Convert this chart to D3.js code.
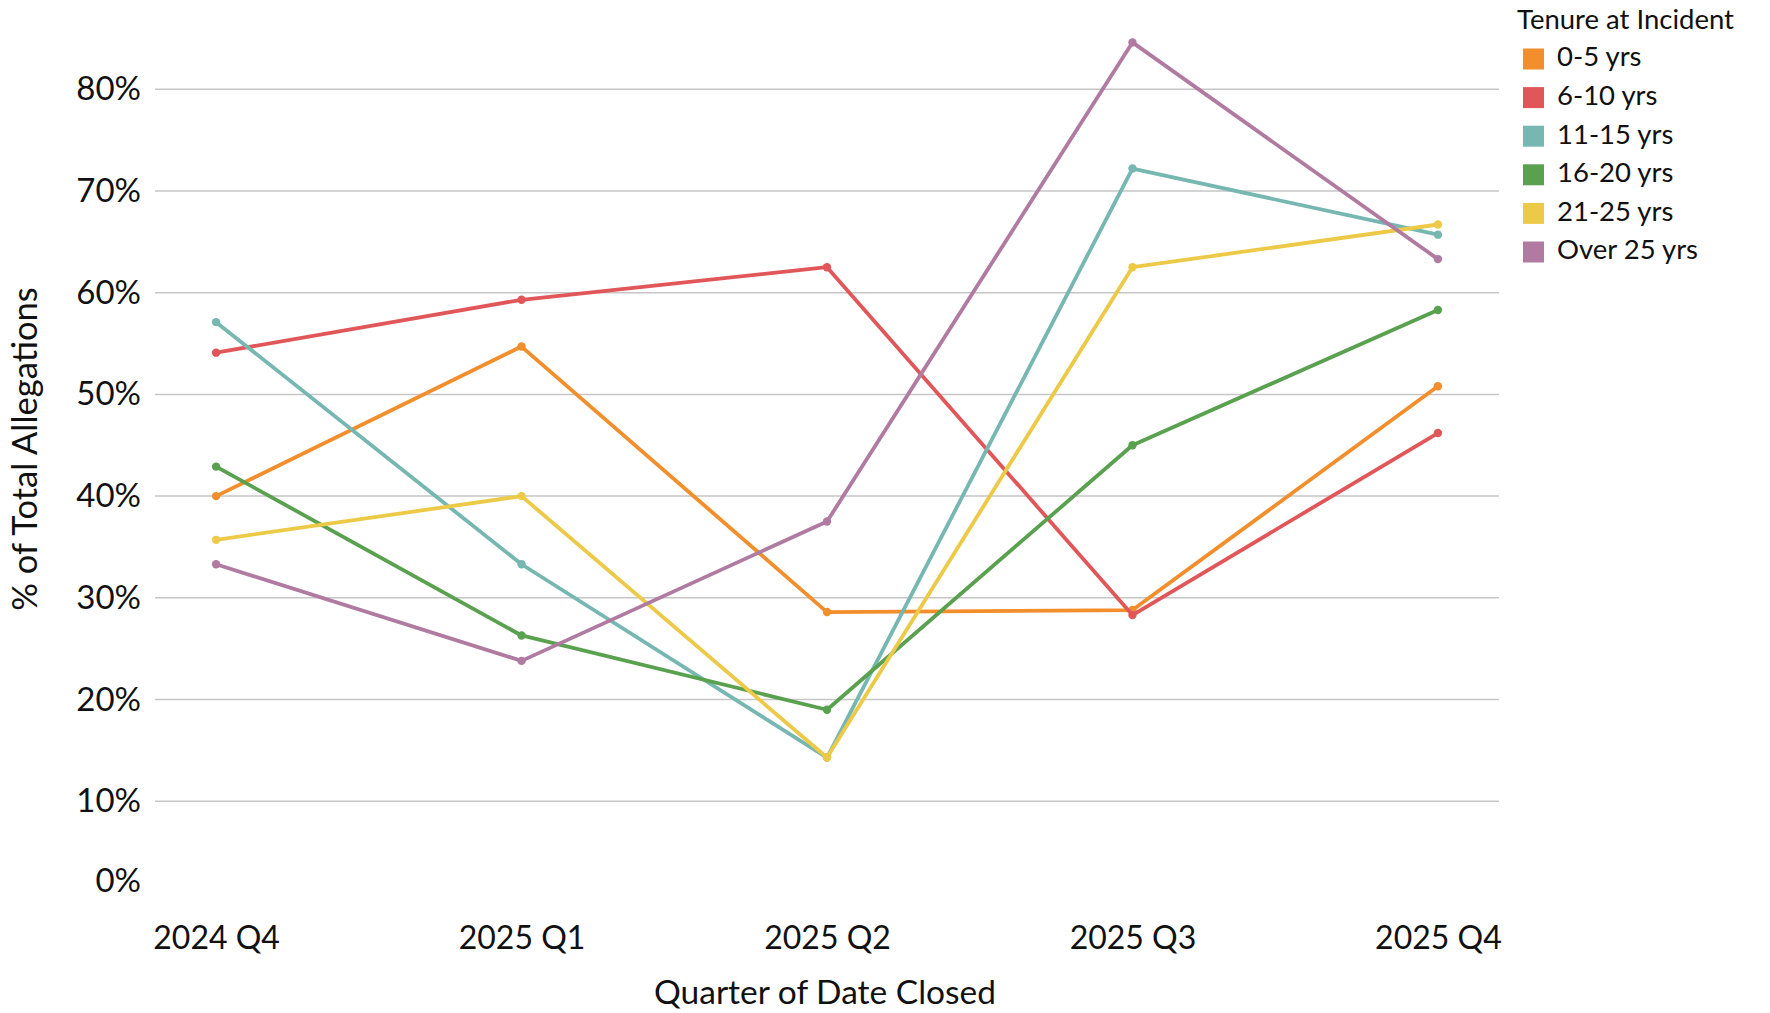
<!DOCTYPE html>
<html>
<head>
<meta charset="utf-8">
<script src="https://cdn.jsdelivr.net/npm/d3@7"></script>
<style>
  body { margin: 0; background: #fff; }
  svg { display: block; font-family: Lato, "Open Sans", sans-serif; }
  .tick text { fill: #111; }
</style>
</head>
<body>
<div class="content"></div>
<script>
// quarters on the x axis
var quarters = ["2024 Q4", "2025 Q1", "2025 Q2", "2025 Q3", "2025 Q4"];
var tenures = ["0-5 yrs", "6-10 yrs", "11-15 yrs", "16-20 yrs", "21-25 yrs", "Over 25 yrs"];
var colors = ["#f28e2b", "#e15759", "#76b7b2", "#59a14f", "#edc948", "#b07aa1"];

// % of total allegations, one array per tenure group
var yrs0to5   = [0.400, 0.547, 0.286, 0.288, 0.508];
var yrs6to10  = [0.541, 0.593, 0.625, 0.283, 0.462];
var yrs11to15 = [0.571, 0.333, 0.143, 0.722, 0.657];
var yrs16to20 = [0.429, 0.263, 0.190, 0.450, 0.583];
var yrs21to25 = [0.357, 0.400, 0.143, 0.625, 0.667];
var yrsOver25 = [0.333, 0.238, 0.375, 0.846, 0.633];
var yTicks = [0, 0.1, 0.2, 0.3, 0.4, 0.5, 0.6, 0.7, 0.8];

var seriesVals = [yrs0to5, yrs6to10, yrs11to15, yrs16to20, yrs21to25, yrsOver25];

var W = 1770, H = 1013;
var svg = d3.select(".content").append("svg")
  .attr("width", W)
  .attr("height", H);

var x = d3.scalePoint().domain(quarters).range([155, 1499]).padding(0.2);
var y = d3.scaleLinear().domain([0, 0.8]).range([903, 89.2]);

// gridlines (no line at 0%)
svg.append("g").selectAll("line")
  .data(yTicks.filter(function(d) { return d > 0; }))
  .enter().append("line")
    .attr("x1", 155).attr("x2", 1499)
    .attr("y1", function(d) { return y(d); })
    .attr("y2", function(d) { return y(d); })
    .attr("stroke", "#c6c6c6")
    .attr("stroke-width", 1.5);

// y axis
var yAxis = svg.append("g")
  .attr("transform", "translate(141,0)")
  .call(d3.axisLeft(y).tickValues(yTicks).tickFormat(d3.format(".0%")).tickSize(0).tickPadding(0));
yAxis.select(".domain").remove();
yAxis.selectAll("text").attr("font-size", 33).attr("font-family", "Lato");
// the 0% label sits up inside the pane like the original
yAxis.selectAll(".tick").filter(function(d) { return d === 0; })
  .select("text").attr("dy", "-0.35em");

// x axis
var xAxis = svg.append("g")
  .attr("transform", "translate(0,938)")
  .call(d3.axisBottom(x).tickSize(0).tickPadding(0));
xAxis.select(".domain").remove();
xAxis.selectAll("text").attr("font-size", 32).attr("font-family", "Lato").attr("dy", "0.35em");

// axis titles
svg.append("text")
  .attr("x", 825).attr("y", 996)
  .attr("text-anchor", "middle")
  .attr("dominant-baseline", "middle")
  .attr("font-size", 33.5)
  .attr("fill", "#111")
  .text("Quarter of Date Closed");

svg.append("text")
  .attr("transform", "translate(28,449) rotate(-90)")
  .attr("text-anchor", "middle")
  .attr("dominant-baseline", "middle")
  .attr("font-size", 34.5)
  .attr("fill", "#111")
  .text("% of Total Allegations");

// lines
var line = d3.line()
  .x(function(d, i) { return x(quarters[i]); })
  .y(function(d) { return y(d); });

var series = svg.selectAll(".series")
  .data(seriesVals)
  .enter().append("g")
    .attr("class", "series");

series.append("path")
  .attr("d", function(d) { return line(d); })
  .attr("fill", "none")
  .attr("stroke", function(d, i) { return colors[i]; })
  .attr("stroke-width", 3.8)
  .attr("stroke-linejoin", "round");

series.each(function(vals, si) {
  d3.select(this).selectAll("circle")
    .data(vals)
    .enter().append("circle")
      .attr("cx", function(d, i) { return x(quarters[i]); })
      .attr("cy", function(d) { return y(d); })
      .attr("r", 4.2)
      .attr("fill", colors[si]);
});

// legend
var legend = svg.append("g").attr("transform", "translate(1517,0)");
legend.append("text")
  .attr("x", 0).attr("y", 22)
  .attr("dominant-baseline", "middle")
  .attr("font-size", 27.5)
  .attr("fill", "#111")
  .text("Tenure at Incident");

var items = legend.selectAll(".item")
  .data(tenures)
  .enter().append("g")
    .attr("class", "item")
    .attr("transform", function(d, i) { return "translate(0," + (58.5 + i * 38.6) + ")"; });

items.append("rect")
  .attr("x", 6).attr("y", -10)
  .attr("width", 21).attr("height", 21)
  .attr("fill", function(d, i) { return colors[i]; });

items.append("text")
  .attr("x", 40).attr("y", 1)
  .attr("dominant-baseline", "middle")
  .attr("font-size", 27.5)
  .attr("fill", "#111")
  .text(function(d) { return d; });
</script>
</body>
</html>
